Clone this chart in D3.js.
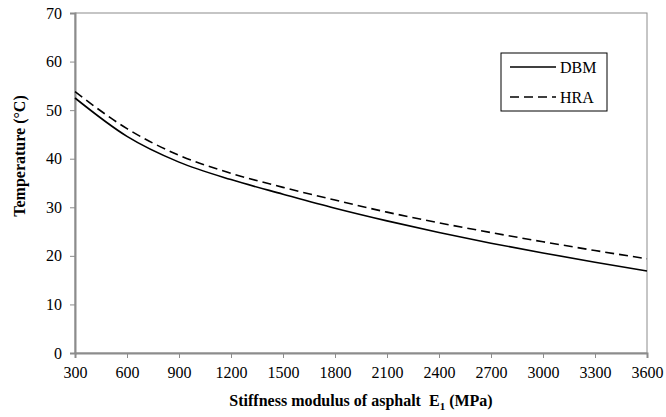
<!DOCTYPE html>
<html lang="en">
  <head>
    <meta charset="UTF-8" />
    <script src="https://d3js.org/d3.v7.min.js"></script>
    <title>Temperature vs stiffness modulus</title>
    <style>
      body { margin: 0; background: #fff; }
      text { font-family: "Liberation Serif", "Times New Roman", serif; }
    </style>
  </head>
  <body>
    <div id="my_dataviz"></div>
    <script>
      // data
      var stiffness = [300, 600, 900, 1200, 1500, 1800, 2100, 2400, 2700, 3000, 3300, 3600]
      var dbm = [52.5, 44.6, 39.3, 35.7, 32.7, 29.8, 27.2, 24.8, 22.6, 20.6, 18.7, 16.9]
      var hra = [53.8, 46.2, 40.7, 37.0, 34.1, 31.5, 29.0, 26.8, 24.8, 22.9, 21.1, 19.4]
      var xTicks = [300, 600, 900, 1200, 1500, 1800, 2100, 2400, 2700, 3000, 3300, 3600]
      var yTicks = [0, 10, 20, 30, 40, 50, 60, 70]
      var seriesNames = ["DBM", "HRA"]

      var width = 666, height = 417
      var margin = {top: 13, right: 19, bottom: 64, left: 75}

      var svg = d3.select("#my_dataviz")
        .append("svg")
          .attr("width", width)
          .attr("height", height)

      var x = d3.scaleLinear().domain([300, 3600]).range([margin.left, width - margin.right])
      var y = d3.scaleLinear().domain([0, 70]).range([height - margin.bottom, margin.top])

      // plot frame
      svg.append("rect")
        .attr("x", x(300)).attr("y", y(70))
        .attr("width", x(3600) - x(300)).attr("height", y(0) - y(70))
        .attr("fill", "none").attr("stroke", "#8c8c8c").attr("stroke-width", 1)

      // x axis
      var xAxis = svg.append("g")
        .attr("transform", "translate(0," + y(0) + ")")
        .call(d3.axisBottom(x).tickValues(xTicks).tickSize(5).tickPadding(9).tickFormat(d3.format("d")))
      xAxis.select(".domain").attr("stroke", "#8c8c8c").attr("stroke-width", 2)
      xAxis.selectAll(".tick line").attr("stroke", "#8c8c8c")
      xAxis.selectAll("text").style("font-size", "16px").attr("fill", "#000")
        .style("font-family", "Liberation Serif")

      // y axis
      var yAxis = svg.append("g")
        .attr("transform", "translate(" + x(300) + ",0)")
        .call(d3.axisLeft(y).tickValues(yTicks).tickSize(5).tickPadding(8))
      yAxis.select(".domain").attr("stroke", "#8c8c8c").attr("stroke-width", 2)
      yAxis.selectAll(".tick line").attr("stroke", "#8c8c8c")
      yAxis.selectAll("text").style("font-size", "16px").attr("fill", "#000")
        .style("font-family", "Liberation Serif")

      // lines
      var line = d3.line()
        .x(function(d) { return x(d[0]) })
        .y(function(d) { return y(d[1]) })
        .curve(d3.curveMonotoneX)

      svg.append("path")
        .datum(stiffness.map(function(s, i) { return [s, dbm[i]] }))
        .attr("d", line)
        .attr("fill", "none").attr("stroke", "#000").attr("stroke-width", 1.6)

      svg.append("path")
        .datum(stiffness.map(function(s, i) { return [s, hra[i]] }))
        .attr("d", line)
        .attr("fill", "none").attr("stroke", "#000").attr("stroke-width", 1.6)
        .attr("stroke-dasharray", "9,5")

      // axis titles
      var xt = svg.append("text")
        .attr("x", (x(300) + x(3600)) / 2).attr("y", 406)
        .attr("text-anchor", "middle")
        .style("font-size", "16px").style("font-weight", "bold")
      xt.append("tspan").text("Stiffness modulus of asphalt \u00a0E")
      xt.append("tspan").text("1").attr("dy", 4).style("font-size", "11px")
      xt.append("tspan").text(" (MPa)").attr("dy", -4)

      svg.append("text")
        .attr("transform", "translate(25,156) rotate(-90)")
        .attr("text-anchor", "middle")
        .style("font-size", "16px").style("font-weight", "bold")
        .text("Temperature (°C)")

      // legend
      var lg = svg.append("g").attr("transform", "translate(501,53)")
      lg.append("rect").attr("width", 106).attr("height", 58)
        .attr("fill", "#fff").attr("stroke", "#000").attr("stroke-width", 1)
      seriesNames.forEach(function(name, i) {
        var yy = 14 + i * 30
        lg.append("line").attr("x1", 9).attr("x2", 55).attr("y1", yy).attr("y2", yy)
          .attr("stroke", "#000").attr("stroke-width", 1.6)
          .attr("stroke-dasharray", i === 1 ? "9,5" : null)
        lg.append("text").attr("x", 59).attr("y", yy + 5.5)
          .style("font-size", "16px").text(name)
      })
    </script>
  </body>
</html>
